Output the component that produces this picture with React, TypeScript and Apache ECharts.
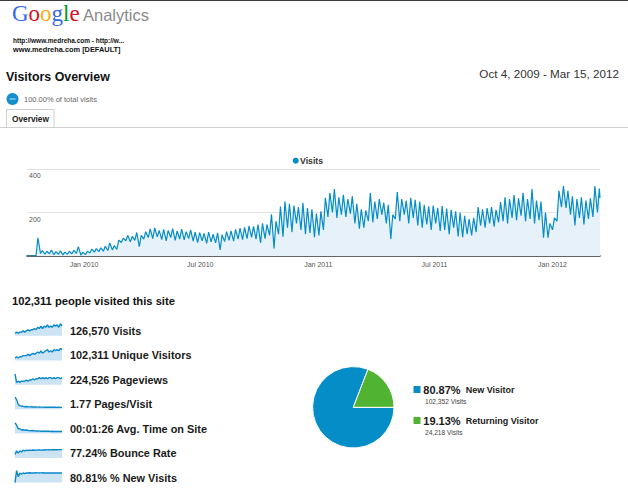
import React, { useEffect, useRef } from "react";
import * as echarts from "echarts";

// Daily visits, Oct 4 2009 (day 0, a Sunday) to Mar 15 2012 (day 893).
// One weekend low (Sunday) and one mid-week high (Wednesday) per week.
const weeklyLows = [
  0, 0, 0, 12, 8, 10, 6, 8, 5, 8, 10, 12, 4,
  6, 14, 18, 20, 22, 25, 28, 30, 62, 70, 65, 72, 43, 78, 85, 80, 88,
  75, 70, 85, 72, 78, 74, 80, 68,
  62, 70, 58, 65, 60, 28, 66,
  72, 68, 78, 75, 80, 86, 78,
  60, 80, 95, 35, 100, 89, 130, 110, 150, 120, 100,
  106, 87, 95, 120, 180, 200, 175, 190, 180, 195, 150, 125, 130, 160, 155, 170, 190, 150, 78, 170, 160, 190, 150, 175, 140,
  130, 145, 120, 150, 115, 120, 100, 130, 90,
  87, 100, 95, 110, 140, 130, 150, 135, 155, 160, 150, 175, 165, 185, 160, 170, 150, 165, 84, 84, 120, 160, 225, 221, 190, 140, 175, 145, 170, 180, 200,
];
const weeklyPeaks = [
  0, 0, 84, 25, 22, 28, 20, 24, 18, 22, 26, 43, 18,
  22, 32, 34, 38, 45, 60, 48, 73, 82, 95, 90, 108, 95, 112, 125, 129, 118,
  122, 118, 126, 115, 124, 112, 120, 110,
  108, 104, 110, 100, 106, 98, 112,
  116, 122, 128, 132, 138, 136, 145,
  150, 145, 192, 160, 227, 250, 240, 232, 225, 245, 220,
  215, 195, 205, 267, 290, 308, 270, 281, 262, 275, 240, 215, 210, 290, 250, 262, 245, 235, 190, 294, 262, 255, 267, 258, 250,
  235, 228, 232, 222, 230, 218, 212, 205, 200,
  185, 170, 175, 225, 215, 220, 225, 212, 248, 270, 262, 280, 265, 290, 262, 308, 255, 250, 200, 150, 175, 300, 322, 300, 275, 262, 270, 255, 265, 322, 310,
];
const lastDayVisits = 267;
const totalDays = 893;

const xTickDays = [89, 270, 454, 635, 819];
const xTickLabels = ["Jan 2010", "Jul 2010", "Jan 2011", "Jul 2011", "Jan 2012"];
const yMax = 400;
const yInterval = 200;

// Site summary
const peopleVisited = "102,311";
const metricValues = ["126,570", "102,311", "224,526", "1.77", "00:01:26", "77.24%", "80.81%"];
const metricLabels = ["Visits", "Unique Visitors", "Pageviews", "Pages/Visit", "Avg. Time on Site", "Bounce Rate", "% New Visits"];

// Sparkline trends (relative scale 0-10)
const sparkVisits = [2, 3, 2, 3, 3, 4, 3, 4, 5, 4, 5, 5, 6, 5, 7, 6, 8, 6, 8, 7, 9, 7, 8, 7, 9, 8, 9, 7, 10, 8];
const sparkUnique = [2, 3, 2, 3, 3, 4, 4, 4, 5, 4, 5, 6, 5, 6, 7, 6, 8, 6, 7, 8, 9, 7, 8, 7, 9, 8, 9, 8, 10, 9];
const sparkPageviews = [9, 2, 3, 2, 3, 3, 3, 4, 3, 4, 4, 5, 4, 5, 5, 6, 5, 6, 5, 6, 5, 6, 6, 5, 6, 5, 6, 6, 5, 6];
const sparkPagesVisit = [10, 8, 4, 3, 2.5, 2.4, 2, 2.2, 2, 1.9, 2, 1.8, 1.9, 1.8, 1.7, 1.8, 1.7, 1.7, 1.6, 1.7, 1.6, 1.6, 1.7, 1.6, 1.6, 1.6, 1.5, 1.6, 1.5, 1.5];
const sparkAvgTime = [9, 7, 4, 4, 3, 3.2, 2.8, 3, 2.6, 2.5, 2.4, 2.6, 2.3, 2.2, 2.3, 2.1, 2, 2.1, 2, 1.9, 2, 1.9, 1.8, 1.9, 1.8, 1.8, 1.7, 1.8, 1.7, 1.7];
const sparkBounce = [3, 6, 4, 6, 5, 6.5, 6, 6.5, 6.3, 6.6, 6.4, 6.7, 6.5, 6.6, 6.7, 6.8, 6.6, 6.8, 6.7, 6.9, 6.8, 6.9, 6.8, 7, 6.9, 7, 6.9, 7, 7, 7];
const sparkNewVisits = [0, 10, 5, 8, 7, 8, 7.5, 8, 8, 8.2, 8, 8.1, 8, 8.2, 8.1, 8, 8.1, 8.2, 8, 8.1, 8, 8.1, 8, 8.1, 8, 8.1, 8, 8, 8.1, 8];
const sparkSeries = [sparkVisits, sparkUnique, sparkPageviews, sparkPagesVisit, sparkAvgTime, sparkBounce, sparkNewVisits];

// Visitor type split
const visitorTypes = ["New Visitor", "Returning Visitor"];
const visitorVisits = [102352, 24218];

const BLUE = "#058DC7";
const GREEN = "#50B432";
const SANS = '"Liberation Sans", Arial, sans-serif';
const SERIF = '"Liberation Serif", serif';

function buildVisits(): [number, number][] {
  const pts: [number, number][] = [];
  weeklyLows.forEach((low, w) => {
    pts.push([w * 7, low]);
    const peakDay = w * 7 + 3;
    if (peakDay < totalDays) pts.push([peakDay, weeklyPeaks[w]]);
  });
  pts.push([totalDays, lastDayVisits]);
  return pts;
}

function txt(x: number, y: number, text: string, font: string, fill: string, align = "left") {
  return {
    type: "text",
    x,
    y,
    silent: true,
    style: { text, font, fill, textAlign: align, textVerticalAlign: "middle" },
  };
}

export default function App() {
  const ref = useRef<HTMLDivElement>(null);

  useEffect(() => {
    if (!ref.current) return;
    const chart = echarts.init(ref.current, null, { renderer: "svg" });

    const rowY = [330.7, 355.4, 379.8, 404.2, 428.6, 453, 477.6];
    const total = visitorVisits.reduce((a, b) => a + b, 0);

    const grids: any[] = [{ left: 27, right: 28, top: 169, height: 87, containLabel: false }];
    const xAxes: any[] = [
      {
        type: "value",
        gridIndex: 0,
        min: 0,
        max: totalDays,
        splitLine: { show: false },
        axisTick: { show: false },
        axisLine: { lineStyle: { color: "#3a3a3a", width: 1.6 } },
        axisLabel: {
          customValues: xTickDays,
          formatter: (v: number) => {
            const i = xTickDays.indexOf(Math.round(v));
            return i >= 0 ? xTickLabels[i] : "";
          },
          color: "#555",
          fontSize: 7,
          fontFamily: SANS,
          margin: 5,
        },
      },
    ];
    const yAxes: any[] = [
      {
        type: "value",
        gridIndex: 0,
        min: 0,
        max: yMax,
        interval: yInterval,
        axisLine: { show: false },
        axisTick: { show: false },
        splitLine: { lineStyle: { color: "#e2e2e2", width: 1 } },
        axisLabel: {
          inside: true,
          verticalAlign: "top",
          align: "left",
          margin: 2,
          padding: [3, 0, 0, 0],
          color: "#555",
          fontSize: 7,
          fontFamily: SANS,
          formatter: (v: number) => (v === 0 ? "" : String(v)),
        },
      },
    ];
    const series: any[] = [
      {
        type: "line",
        name: "Visits",
        xAxisIndex: 0,
        yAxisIndex: 0,
        data: buildVisits(),
        showSymbol: false,
        symbol: "none",
        lineStyle: { color: BLUE, width: 1.2 },
        itemStyle: { color: BLUE },
        areaStyle: { color: "#E6F1F9", opacity: 1 },
        silent: true,
      },
    ];

    sparkSeries.forEach((vals, i) => {
      const gi = i + 1;
      grids.push({ left: 15, width: 47, top: rowY[i] - 7, height: 12 });
      xAxes.push({ type: "category", gridIndex: gi, show: false, boundaryGap: false, data: vals.map((_, k) => k) });
      yAxes.push({ type: "value", gridIndex: gi, show: false, min: 0, max: 10 });
      series.push({
        type: "line",
        xAxisIndex: gi,
        yAxisIndex: gi,
        data: vals,
        symbol: "none",
        silent: true,
        lineStyle: { color: "#0a88cc", width: 1.4 },
        areaStyle: { color: "#cbe3f3", opacity: 1 },
      });
    });

    series.push({
      type: "pie",
      center: [353.3, 407.3],
      radius: 40.7,
      startAngle: 0,
      clockwise: true,
      silent: true,
      label: { show: false },
      labelLine: { show: false },
      itemStyle: { borderColor: "#fff", borderWidth: 1 },
      data: visitorTypes.map((name, i) => ({
        name,
        value: visitorVisits[i],
        itemStyle: { color: i === 0 ? BLUE : GREEN },
      })),
    });

    const graphic: any[] = [
      { type: "line", silent: true, shape: { x1: 0, y1: 0.5, x2: 628, y2: 0.5 }, style: { stroke: "#3c3c3c", lineWidth: 1 } },
      txt(83, 15, "Analytics", `16.5px ${SANS}`, "#8a8a8a"),
      txt(13, 40, "http://www.medreha.com - http://w...", `bold 6.5px ${SANS}`, "#111"),
      txt(13, 49.5, "www.medreha.com [DEFAULT]", `bold 7.4px ${SANS}`, "#111"),
      txt(6, 77, "Visitors Overview", `bold 12.4px ${SANS}`, "#111"),
      txt(619, 73, "Oct 4, 2009 - Mar 15, 2012", `11.7px ${SANS}`, "#333", "right"),
      { type: "circle", silent: true, shape: { cx: 12.5, cy: 99, r: 6 }, style: { fill: "#1590cf" } },
      { type: "line", silent: true, shape: { x1: 9.5, y1: 99, x2: 15.5, y2: 99 }, style: { stroke: "#bfe0f2", lineWidth: 1 } },
      txt(24, 99, "100.00% of total visits", `7.5px ${SANS}`, "#666"),
      { type: "line", silent: true, shape: { x1: 0, y1: 127.5, x2: 628, y2: 127.5 }, style: { stroke: "#cfcfcf", lineWidth: 1 } },
      { type: "rect", silent: true, shape: { x: 6.5, y: 109.5, width: 47.5, height: 18 }, style: { fill: "#fff", stroke: "#d0d0d0", lineWidth: 1 } },
      txt(12, 119, "Overview", `bold 8.3px ${SANS}`, "#222"),
      { type: "circle", silent: true, shape: { cx: 295.7, cy: 160.7, r: 3 }, style: { fill: BLUE } },
      txt(300, 160.7, "Visits", `bold 8.7px ${SANS}`, "#333"),
      txt(12, 300.7, `${peopleVisited} people visited this site`, `bold 11.2px ${SANS}`, "#111"),
    ];

    metricValues.forEach((v, i) => {
      graphic.push({
        type: "text",
        x: 70,
        y: rowY[i],
        silent: true,
        style: {
          text: `${v} ${metricLabels[i]}`,
          font: `bold 10.9px ${SANS}`,
          fill: "#1a1a1a",
          textVerticalAlign: "middle",
        },
      });
    });

    const legendY = [389.5, 420.5];
    visitorTypes.forEach((name, i) => {
      const pct = ((visitorVisits[i] / total) * 100).toFixed(2) + "%";
      const y = legendY[i];
      graphic.push(
        { type: "rect", silent: true, shape: { x: 413.5, y: y - 3.5, width: 7, height: 7 }, style: { fill: i === 0 ? BLUE : GREEN } },
        txt(423.3, y, pct, `bold 11px ${SANS}`, "#1a1a1a"),
        txt(465.7, y + 0.5, name, `bold 9px ${SANS}`, "#1a1a1a"),
        txt(425, y + 11.5, `${visitorVisits[i].toLocaleString("en-US")} Visits`, `6.6px ${SANS}`, "#444")
      );
    });

    const logoLetter = (color: string) => ({ color, fontFamily: SERIF, fontSize: 23, fontWeight: "normal" });

    chart.setOption({
      animation: false,
      backgroundColor: "#fff",
      title: {
        text: "{b|G}{r|o}{y|o}{b|g}{g|l}{r|e}",
        left: 12,
        top: 2,
        padding: 0,
        textStyle: {
          fontWeight: "normal",
          rich: {
            b: logoLetter("#3369E8"),
            r: logoLetter("#D50F25"),
            y: logoLetter("#EEB211"),
            g: logoLetter("#009925"),
          },
        },
      },
      grid: grids,
      xAxis: xAxes,
      yAxis: yAxes,
      series,
      graphic,
    });

    return () => chart.dispose();
  }, []);

  return (
    <div
      ref={ref}
      style={{ position: "absolute", left: 0, top: 0, width: 628, height: 494, background: "#fff" }}
    />
  );
}
